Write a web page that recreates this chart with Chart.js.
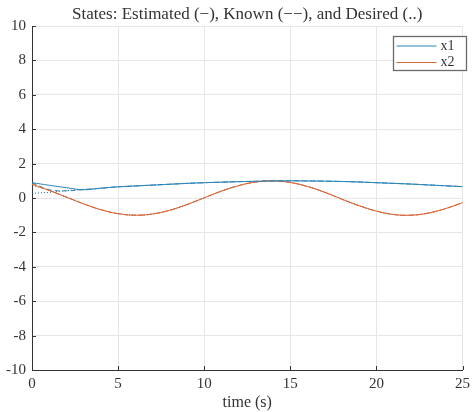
<!DOCTYPE html>
<html>
<head>
<meta charset="utf-8">
<script src="https://cdn.jsdelivr.net/npm/chart.js@4.4.1/dist/chart.umd.min.js"></script>
<style>
  html, body { margin: 0; padding: 0; background: #fff; }
  #wrap { width: 475px; height: 412px; }
</style>
</head>
<body>
<div id="wrap"><canvas id="states"></canvas></div>
<script>
const timeSteps = [0, 1, 2, 3, 4, 5, 6, 7, 8, 9, 10, 11, 12, 13, 14, 15, 16, 17, 18, 19, 20, 21, 22, 23, 24, 25];

const x1Estimated = [0.89, 0.74, 0.60, 0.48, 0.57, 0.65, 0.70, 0.75, 0.80, 0.85, 0.89, 0.92, 0.95, 0.97, 0.99, 1.00, 0.99, 0.98, 0.96, 0.93, 0.89, 0.85, 0.81, 0.76, 0.71, 0.66];
const x1Known     = [0.89, 0.48, 0.42, 0.49, 0.57, 0.65, 0.70, 0.75, 0.80, 0.85, 0.89, 0.92, 0.95, 0.97, 0.99, 1.00, 0.99, 0.98, 0.96, 0.93, 0.89, 0.85, 0.81, 0.76, 0.71, 0.66];
const x1Desired   = [0.27, 0.33, 0.42, 0.50, 0.57, 0.65, 0.70, 0.75, 0.80, 0.85, 0.89, 0.92, 0.95, 0.97, 0.99, 1.00, 0.99, 0.98, 0.96, 0.93, 0.89, 0.85, 0.81, 0.76, 0.71, 0.66];

const x2Estimated = [0.80, 0.44, 0.05, -0.34, -0.68, -0.91, -1.00, -0.93, -0.71, -0.38, 0.01, 0.40, 0.72, 0.93, 1.00, 0.90, 0.67, 0.33, -0.07, -0.45, -0.76, -0.96, -1.00, -0.88, -0.62, -0.27];
const x2Known     = [0.80, 0.44, 0.05, -0.34, -0.68, -0.91, -1.00, -0.93, -0.71, -0.38, 0.01, 0.40, 0.72, 0.93, 1.00, 0.90, 0.67, 0.33, -0.07, -0.45, -0.76, -0.96, -1.00, -0.88, -0.62, -0.27];
const x2Desired   = [0.75, 0.44, 0.05, -0.34, -0.68, -0.91, -1.00, -0.93, -0.71, -0.38, 0.01, 0.40, 0.72, 0.93, 1.00, 0.90, 0.67, 0.33, -0.07, -0.45, -0.76, -0.96, -1.00, -0.88, -0.62, -0.27];

const xTicks = [0, 5, 10, 15, 20, 25];
const yTicks = [-10, -8, -6, -4, -2, 0, 2, 4, 6, 8, 10];

const titleText = 'States: Estimated (\u2212), Known (\u2212\u2212), and Desired (..)';

const blue = '#2b86b8';
const orange = '#d9683a';
const ink = '#333333';
const serif = '"Liberation Serif", "Times New Roman", Times, serif';

function pts(ys) {
  return timeSteps.map((t, i) => ({ x: t, y: ys[i] }));
}

function line(label, ys, color, dash, legend) {
  return {
    label: label,
    data: pts(ys),
    borderColor: color,
    backgroundColor: color,
    borderWidth: 1,
    borderDash: dash,
    pointRadius: 0,
    tension: 0.4,
    fill: false,
    showInLegend: legend
  };
}

Chart.defaults.font.family = serif;

// MATLAB-style title over the axes, inward ticks and boxed legend
const matlabBits = {
  id: 'matlabBits',
  afterDatasetsDraw(chart) {
    const ctx = chart.ctx;
    const a = chart.chartArea;
    const xs = chart.scales.x, ys = chart.scales.y;
    ctx.save();

    ctx.fillStyle = ink;
    ctx.font = '17px ' + serif;
    ctx.textAlign = 'center';
    ctx.textBaseline = 'alphabetic';
    ctx.fillText(titleText, (a.left + a.right) / 2, 19);

    ctx.strokeStyle = ink;
    ctx.lineWidth = 1;
    ctx.beginPath();
    xTicks.forEach(v => {
      const px = Math.round(xs.getPixelForValue(v)) + 0.5;
      ctx.moveTo(px, a.bottom); ctx.lineTo(px, a.bottom - 4);
    });
    yTicks.forEach(v => {
      const py = Math.round(ys.getPixelForValue(v)) + 0.5;
      ctx.moveTo(a.left, py); ctx.lineTo(a.left + 4, py);
    });
    ctx.stroke();

    // legend box
    const items = chart.data.datasets.filter(d => d.showInLegend);
    const bx = 393.5, by = 36.5, bw = 73, bh = 34;
    ctx.fillStyle = '#fff';
    ctx.fillRect(bx, by, bw, bh);
    ctx.strokeStyle = '#6a6a6a';
    ctx.lineWidth = 1.3;
    ctx.strokeRect(bx, by, bw, bh);
    ctx.lineWidth = 1;
    ctx.font = '14px ' + serif;
    ctx.textBaseline = 'middle';
    ctx.textAlign = 'left';
    items.forEach((d, i) => {
      const y = by + 9.5 + i * 16.5;
      ctx.strokeStyle = d.borderColor;
      ctx.setLineDash([]);
      ctx.beginPath();
      ctx.moveTo(bx + 3, y); ctx.lineTo(bx + 43, y);
      ctx.stroke();
      ctx.fillStyle = ink;
      ctx.fillText(d.label, bx + 47, y);
    });
    ctx.restore();
  }
};

new Chart(document.getElementById('states'), {
  type: 'line',
  data: {
    datasets: [
      line('x1', x1Estimated, blue, [], true),
      line('x2', x2Estimated, orange, [], true),
      line('x1 known', x1Known, blue, [5, 3], false),
      line('x2 known', x2Known, orange, [5, 3], false),
      line('x1 desired', x1Desired, '#1d5a7d', [1, 2], false),
      line('x2 desired', x2Desired, '#8a4a2a', [1, 2], false)
    ]
  },
  options: {
    responsive: true,
    maintainAspectRatio: false,
    animation: false,
    layout: { padding: { left: 0, right: 9, top: 26, bottom: 0 } },
    plugins: {
      legend: { display: false },
      tooltip: { enabled: false },
      title: { display: false }
    },
    scales: {
      x: {
        type: 'linear',
        min: 0,
        max: 25,
        afterBuildTicks: s => { s.ticks = xTicks.map(v => ({ value: v })); },
        afterFit: s => { s.height = 42; },
        border: { display: true, color: ink, width: 1 },
        grid: { color: '#e6e6e6', drawTicks: false },
        ticks: { color: ink, padding: 5, font: { family: serif, size: 15 } },
        title: {
          display: true,
          text: 'time (s)',
          color: ink,
          font: { family: serif, size: 16 },
          padding: { top: 0, bottom: 0 }
        }
      },
      y: {
        min: -10,
        max: 10,
        afterBuildTicks: s => { s.ticks = yTicks.map(v => ({ value: v })); },
        afterFit: s => { s.width = 32; },
        border: { display: true, color: ink, width: 1 },
        grid: { color: '#e6e6e6', drawTicks: false },
        ticks: { color: ink, padding: 6, font: { family: serif, size: 15 } }
      }
    }
  },
  plugins: [matlabBits]
});
</script>
</body>
</html>
